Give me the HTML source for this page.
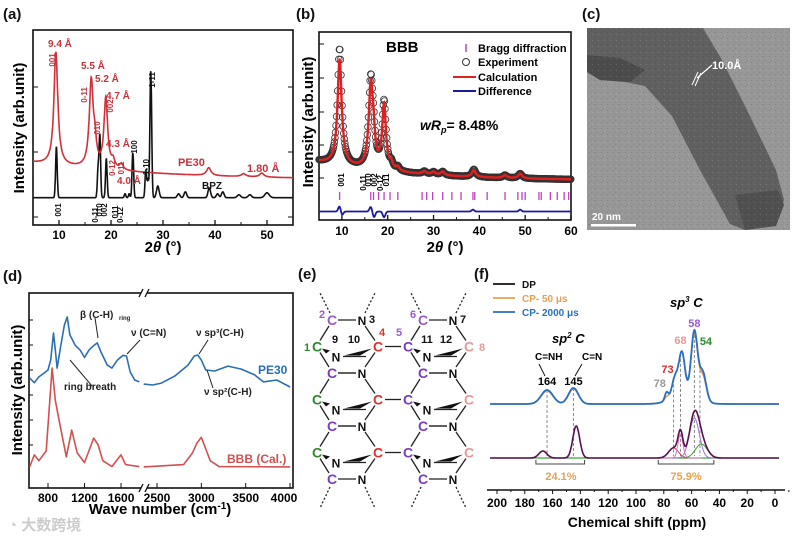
<!DOCTYPE html>
<html><head><meta charset="utf-8">
<style>
html,body{margin:0;padding:0;background:#fff}
svg{display:block;font-family:"Liberation Sans","Noto Sans CJK SC",sans-serif;font-weight:bold}
text{font-weight:bold}
</style></head>
<body>
<svg id="fig" width="800" height="537" viewBox="0 0 800 537" xmlns="http://www.w3.org/2000/svg">
<defs>
<pattern id="grain" width="6" height="6" patternUnits="userSpaceOnUse">
<rect width="6" height="6" fill="none"/><rect x="1" y="2" width="1" height="1" fill="#000" opacity="0.15"/><rect x="4" y="4" width="1" height="1" fill="#fff" opacity="0.15"/><rect x="3" y="0" width="1" height="1" fill="#000" opacity="0.1"/>
</pattern>
</defs>
<rect width="800" height="537" fill="#fff"/>
<g font-size="15" fill="#111">
<text x="3" y="19">(a)</text><text x="296" y="19">(b)</text><text x="582" y="19">(c)</text>
<text x="3" y="281">(d)</text><text x="298" y="279">(e)</text><text x="474" y="279">(f)</text>
</g>
<g>
<rect x="587" y="28" width="203" height="202" fill="#979797"/>
<polygon points="587,28 703,28 722,60 748,112 776,170 784,200 776,226 745,230 730,224 700,170 672,116 645,86 625,82 600,80 587,72" fill="#606060"/>
<polygon points="587,55 620,58 645,70 630,82 600,80 587,72" fill="#4c4c4c"/>
<polygon points="735,195 778,190 784,205 776,226 745,230" fill="#505050"/>
<rect x="587" y="28" width="203" height="202" fill="url(#grain)"/>
<g stroke="#fff" stroke-width="1"><line x1="692" y1="85" x2="698" y2="72"/><line x1="695" y1="86" x2="701" y2="73"/></g>
<line x1="697" y1="78" x2="712" y2="65" stroke="#fff" stroke-width="1.2"/>
<text x="712" y="69" font-size="11" fill="#fff">10.0Å</text>
<rect x="591" y="224" width="45" height="2.5" fill="#fff"/>
<text x="592" y="220" font-size="10" fill="#fff" font-weight="normal">20 nm</text>
</g>
<g id="pa"></g>
<g id="pb"></g>
<g id="pd"></g>
<g id="pe"></g>
<g id="pf"></g>
<text x="8" y="530" font-size="15" fill="#ccc">◔ 大数跨境</text>
</svg>
<script>
// ---------- DATA ----------
const aBpzCenters=[9.5,17.5,17.85,19.1,22.7,23.5,24.2,26.7,27.1,27.65,29.0,33,34.3,38.9,40.5,41.5,44.6,46.7,50];
const aBpzHeights=[26,14,32,20,2,2,23,14,9,65,6,2,3,5,2,3,1.5,1.5,2.5];
const aBpzWidths=[0.22,0.2,0.22,0.22,0.2,0.2,0.22,0.22,0.2,0.24,0.35,0.35,0.35,0.35,0.35,0.35,0.45,0.45,0.6];
const aBpzBase=[14];
const aPeCenters=[9.4,16.2,16.9,19.0,20.4,22.0,38.8,45.5,49];
const aPeHeights=[58,44,10,36,4,3,4,1.5,2];
const aPeWidths=[0.45,0.45,0.35,0.42,0.4,0.4,0.5,0.5,0.5];
const aPeBase=[23,9,25];
const aXTicks=[10,20,30,40,50];
const bCenters=[9.5,16.3,16.9,19.2,20.8,22.2,28,30,32,38.8,45.6,48.9];
const bExpHeights=[62,46,12,36,3,2,1.5,1.5,2,4,1.5,2.5];
const bCalcHeights=[56,43,12,34,3,2,1.5,1.5,2,3.5,1.5,2.5];
const bWidths=[0.55,0.55,0.4,0.5,0.4,0.4,0.5,0.5,0.5,0.5,0.5,0.5];
const bBase=[21,10,20];
const bBragg=[9.5,16.3,16.9,18.0,19.2,20.5,22.2,27.5,28.5,29.8,32,34,36,38.6,39,41.7,45.6,48.4,49.3,50,53,53.5,55.5,57,58.5,59.5];
const bDiffCenters=[9.5,10,16.3,17,19.2,38.6,48.9];
const bDiffAmps=[3,-2,2.5,-3,-3,1,1];
const bXTicks=[10,20,30,40,50,60];
const dBlueLeftWn=[600,650,700,760,800,830,860,880,900,940,980,1010,1040,1100,1150,1200,1250,1300,1340,1380,1450,1500,1560,1620,1660,1700,1750,1800];
const dBlueLeftI=[56.4,54,57,59,60.5,65.6,79.5,70.8,61.5,73,83.6,87.7,78.5,73,70.8,67,70.8,73,74.4,69.7,63,61.5,65.6,68,67.7,59.5,55.4,54.4];
const dBlueRightWn=[2350,2450,2550,2700,2850,2920,2960,3000,3050,3150,3300,3450,3600,3700,3850,4000];
const dBlueRightI=[53.3,52.8,53.8,57.4,63,67.7,68.2,65.6,60.5,60,62.5,61,58,54.4,55.4,51.8];
const dRedLeftWn=[600,650,700,780,820,845,880,920,1000,1060,1120,1200,1300,1350,1400,1500,1600,1650,1800];
const dRedLeftI=[10.8,17,14,19,45,61.5,45,35,16,29.7,18,13,25.6,22,14,11,17,12,11];
const dRedRightWn=[2350,2800,2900,2950,3000,3050,3100,3200,4000];
const dRedRightI=[10.8,12,18,23,26,20,14,11,10.8];
const dLeftTicks=[800,1200,1600];
const dRightTicks=[2500,3000,3500,4000];
const fTopCenters=[164,145,78,72,67,58,52,65];
const fTopHeights=[14,16,8,18,40,64,28,12];
const fTopWidths=[6,5,1.8,3,3,3.2,3.5,12];
const fOrangeHeights=[13,15,3,17,38,60,24,14];
const fDpCenters=[167,143,73,68,58,53];
const fDpHeights=[7,32,10,24,40,14];
const fDpWidths=[4,3.5,5,2.5,5,6];
const fDpColors=['#e070e0','#e060d0','#d04040','#e070c8','#a070e0','#40a040'];
const fDashed=[164,145,73,68,58,54];
const fXTicks=[200,180,160,140,120,100,80,60,40,20,0];

// ---------- HELPERS ----------
const NS='http://www.w3.org/2000/svg';
function mk(parent,tag,attrs,txt){const e=document.createElementNS(NS,tag);for(const k in attrs)e.setAttribute(k,attrs[k]);if(txt!==undefined)e.textContent=txt;parent.appendChild(e);return e;}
function lor(x,c,w){const d=(x-c)/w;return 1/(1+d*d);}
function gau(x,c,w){const d=(x-c)/w;return Math.exp(-d*d);}
function pathFrom(pts){return pts.map((p,i)=>(i?'L':'M')+p[0].toFixed(1)+','+p[1].toFixed(1)).join('');}
function frame(g,x0,y0,x1,y1){const r=mk(g,'rect',{x:x0,y:y0,width:x1-x0,height:y1-y0,fill:'none',stroke:'#111','stroke-width':1.6});}

// ---------- PANEL A ----------
(function(){
const g=document.getElementById('pa');
const X0=33,X1=293,Y0=30,Y1=225;
const xs=v=>X0+(v-5)/50*(X1-X0);
const ys=v=>Y1-v*1.95;
frame(g,X0,Y0,X1,Y1);
aXTicks.forEach(t=>{mk(g,'line',{x1:xs(t),x2:xs(t),y1:Y1,y2:Y1-5,stroke:'#111','stroke-width':1.3});mk(g,'line',{x1:xs(t+5),x2:xs(t+5),y1:Y1,y2:Y1-3,stroke:'#111'});
 const l=mk(g,'text',{x:xs(t),y:Y1+14,'font-size':12,'text-anchor':'middle'},t);});
[87,152,217].forEach(y=>{mk(g,'line',{x1:X0,x2:X0+5,y1:y,y2:y,stroke:'#111'});mk(g,'line',{x1:X1,x2:X1-5,y1:y,y2:y,stroke:'#111'});});
const xt=mk(g,'text',{x:163,y:252,'font-size':15,'text-anchor':'middle'});xt.innerHTML='2<tspan font-style="italic">θ</tspan> (°)';

const yt=mk(g,'text',{x:0,y:0,'font-size':15,'text-anchor':'middle',transform:'translate(24,128) rotate(-90)'},'Intensity (arb.unit)');

const bp=[],pp=[];
for(let x=5;x<=55;x+=0.04){
 let b=aBpzBase[0];aBpzCenters.forEach((c,i)=>b+=aBpzHeights[i]*gau(x,c,aBpzWidths[i]));bp.push([xs(x),ys(b)]);
 let p=aPeBase[0]+aPeBase[1]*Math.exp(-(x-5)/aPeBase[2]);aPeCenters.forEach((c,i)=>p+=aPeHeights[i]*lor(x,c,aPeWidths[i]));pp.push([xs(x),ys(p)]);}
const l1=mk(g,'path',{d:pathFrom(bp),fill:'none',stroke:'#111','stroke-width':1.6});
const l2=mk(g,'path',{d:pathFrom(pp),fill:'none',stroke:'#d0313a','stroke-width':1.6});
const red='#c8323c';
[['9.4 Å',48,47],['5.5 Å',81,69],['5.2 Å',95,82],['4.7 Å',106,99],['4.3 Å',106,147],['4.0 Å',117,184]].forEach(a=>mk(g,'text',{x:a[1],y:a[2],'font-size':10,fill:red},a[0]));
mk(g,'text',{x:178,y:166,'font-size':11,fill:red},'PE30');mk(g,'text',{x:247,y:172,'font-size':11,fill:red},'1.80 Å');
mk(g,'text',{x:202,y:189,'font-size':10,fill:'#111'},'BPZ');
[['001',55,60,red],['0-11',87,95,red],['010',100,128,red],['002',113,106,red],['0-12',115,168,red],['011',124,168,red],
 ['001',61,210,'#111'],['0-11',98,215,'#111'],['010',102,210,'#111'],['002',107,210,'#111'],['011',118,212,'#111'],['0-12',123,215,'#111'],
 ['100',137,147,'#111'],['1-10',149,167,'#111'],['1-11',155,80,'#111']].forEach(a=>mk(g,'text',{x:0,y:0,'font-size':8,fill:a[3],'text-anchor':'middle',transform:`translate(${a[1]},${a[2]}) rotate(-90)`},a[0]));
})();

// ---------- PANEL B ----------
(function(){
const g=document.getElementById('pb');
const X0=319,X1=571,Y0=32,Y1=220;
const xs=v=>X0+(v-5)/55*(X1-X0);
const ys=v=>Y1-v*1.88;
frame(g,X0,Y0,X1,Y1);
bXTicks.forEach(t=>{mk(g,'line',{x1:xs(t),x2:xs(t),y1:Y1,y2:Y1-5,stroke:'#111','stroke-width':1.3});mk(g,'line',{x1:xs(t-5),x2:xs(t-5),y1:Y1,y2:Y1-3,stroke:'#111'});
 const l=mk(g,'text',{x:xs(t),y:Y1+15,'font-size':12,'text-anchor':'middle'},t);});
[44,78,112,145,178].forEach(y=>mk(g,'line',{x1:X0,x2:X0+5,y1:y,y2:y,stroke:'#111'}));
const xt=mk(g,'text',{x:445,y:252,'font-size':15,'text-anchor':'middle'});xt.innerHTML='2<tspan font-style="italic">θ</tspan> (°)';

const yt=mk(g,'text',{x:0,y:0,'font-size':15,'text-anchor':'middle',transform:'translate(313,122) rotate(-90)'},'Intensity (arb.unit)');

const f=(x,h)=>{let v=bBase[0]+bBase[1]*Math.exp(-(x-5)/bBase[2]);bCenters.forEach((c,i)=>v+=h[i]*lor(x,c,bWidths[i]));return v;};
const circ=mk(g,'g',{fill:'none',stroke:'#333','stroke-width':0.8});

for(let x=5;x<=60;x+=0.12){mk(circ,'circle',{cx:xs(x),cy:ys(f(x,bExpHeights)),r:3.3});}
const cp=[];for(let x=5;x<=60;x+=0.04)cp.push([xs(x),ys(f(x,bCalcHeights))]);
const cl=mk(g,'path',{d:pathFrom(cp),fill:'none',stroke:'#e02020','stroke-width':2.4});
const dp=[];for(let x=5;x<=60;x+=0.05){let v=4.5;bDiffCenters.forEach((c,i)=>v+=bDiffAmps[i]*gau(x,c,0.4));dp.push([xs(x),ys(v)]);}
const dl=mk(g,'path',{d:pathFrom(dp),fill:'none',stroke:'#1a1aa0','stroke-width':1.8});
bBragg.forEach(c=>{const t=mk(g,'line',{x1:xs(c),x2:xs(c),y1:192,y2:200,stroke:'#c040c0','stroke-width':1.3});});
mk(g,'text',{x:386,y:52,'font-size':15},'BBB');
const lg=mk(g,'g',{'font-size':11});
mk(lg,'line',{x1:466,x2:466,y1:44,y2:52,stroke:'#c040c0','stroke-width':1.5});mk(lg,'text',{x:478,y:52},'Bragg diffraction');
mk(lg,'circle',{cx:466,cy:62,r:3.5,fill:'none',stroke:'#333'});mk(lg,'text',{x:478,y:66},'Experiment');
mk(lg,'line',{x1:453,x2:476,y1:77,y2:77,stroke:'#e02020','stroke-width':2});mk(lg,'text',{x:478,y:81},'Calculation');
mk(lg,'line',{x1:453,x2:476,y1:91,y2:91,stroke:'#1a1aa0','stroke-width':2});mk(lg,'text',{x:478,y:95},'Difference');
const w=mk(g,'text',{x:420,y:130,'font-size':14});w.innerHTML='<tspan font-style="italic">wR</tspan><tspan font-style="italic" font-size="9" dy="3">p</tspan><tspan dy="-3">= 8.48%</tspan>';
[['001',344,180],['0-11',366,183],['010',371,180],['002',377,180],['0-12',383,183],['011',389,180]].forEach(a=>mk(g,'text',{x:0,y:0,'font-size':8,'text-anchor':'middle',transform:`translate(${a[1]},${a[2]}) rotate(-90)`},a[0]));
})();

// ---------- PANEL D ----------
(function(){
const g=document.getElementById('pd');
const X0=29,X1=293,Y0=293,Y1=488,BR=144;
const xl=v=>48+(v-800)*0.0913;
const xr=v=>157+(v-2500)*0.0887;
const ys=v=>Y1-v*1.95;
frame(g,X0,Y0,X1,Y1);
[[dLeftTicks,xl],[dRightTicks,xr]].forEach(p=>p[0].forEach(t=>{mk(g,'line',{x1:p[1](t),x2:p[1](t),y1:Y1,y2:Y1-5,stroke:'#111'});
 const l=mk(g,'text',{x:Math.min(p[1](t),284),y:Y1+14,'font-size':12,'text-anchor':'middle'},t);}));
[320,345,370,395,420,445].forEach(y=>mk(g,'line',{x1:X0,x2:X0+4,y1:y,y2:y,stroke:'#111'}));
[Y0,Y1].forEach(y=>{mk(g,'rect',{x:BR-3,y:y-3,width:6,height:6,fill:'#fff'});mk(g,'line',{x1:BR-5,x2:BR-1,y1:y+4,y2:y-4,stroke:'#111','stroke-width':1.3});mk(g,'line',{x1:BR+1,x2:BR+5,y1:y+4,y2:y-4,stroke:'#111','stroke-width':1.3});});
const xt=mk(g,'text',{x:160,y:514,'font-size':15,'text-anchor':'middle'});xt.innerHTML='Wave number (cm<tspan font-size="10" dy="-5">-1</tspan><tspan dy="5">)</tspan>';

const yt=mk(g,'text',{x:0,y:0,'font-size':15,'text-anchor':'middle',transform:'translate(22,390) rotate(-90)'},'Intensity (arb.unit)');

function line(wn,iv,xf,col,name){const e=mk(g,'path',{d:pathFrom(wn.map((w,i)=>[xf(w),ys(iv[i])])),fill:'none',stroke:col,'stroke-width':1.6,'stroke-linejoin':'round'});}
line(dBlueLeftWn,dBlueLeftI,xl,'#2a6fb5','pe30-line-left');line(dBlueRightWn,dBlueRightI,xr,'#2a6fb5','pe30-line-right');
line(dRedLeftWn,dRedLeftI,xl,'#d25050','bbb-line-left');line(dRedRightWn,dRedRightI,xr,'#d25050','bbb-line-right');
const ann=mk(g,'g',{'font-size':10,fill:'#222'});
mk(ann,'text',{x:80,y:318},'β (C-H)');mk(ann,'text',{x:119,y:320,'font-size':6},'ring');
mk(ann,'text',{x:131,y:336},'ν (C=N)');mk(ann,'text',{x:196,y:336},'ν sp³(C-H)');
mk(ann,'text',{x:64,y:390},'ring breath');mk(ann,'text',{x:204,y:395},'ν sp²(C-H)');
const ar=mk(g,'g',{stroke:'#222','stroke-width':1});
[[95,318,98,338],[140,340,127,354],[208,340,199,354],[92,386,70,360],[213,388,207,370]].forEach(a=>{mk(ar,'line',{x1:a[0],y1:a[1],x2:a[2],y2:a[3]});});
mk(g,'text',{x:258,y:374,'font-size':12,fill:'#2a6fb5'},'PE30');
mk(g,'text',{x:227,y:463,'font-size':12,fill:'#d25050'},'BBB (Cal.)');
})();

// ---------- PANEL E ----------
(function(){
const g=document.getElementById('pe');
const cols=[0,91];const rowsY=[320,373,426,479];
const lines=mk(g,'g',{stroke:'#222','stroke-width':1.3});
const green='#2f8a2f',purple='#7a3cc0',red='#e03030',pink='#e39a9a',lpurple='#9a5ad0';
cols.forEach((dx,ci)=>{
 for(let r=0;r<3;r++){const yt=rowsY[r],yb=rowsY[r+1],ym=(yt+yb)/2;
  const P=[[332+dx,yt],[362+dx,yt],[378+dx,ym],[362+dx,yb],[332+dx,yb],[317+dx,ym]];
  mk(lines,'line',{x1:P[0][0]+6,y1:yt,x2:P[1][0]-6,y2:yt});
  mk(lines,'line',{x1:P[1][0]+3,y1:yt+6,x2:P[2][0]-3,y2:ym-6});
  mk(lines,'line',{x1:P[2][0]-3,y1:ym+6,x2:P[3][0]+3,y2:yb-6});
  mk(lines,'line',{x1:P[4][0]-3,y1:yb-6,x2:P[5][0]+3,y2:ym+6});
  mk(lines,'line',{x1:P[5][0]+3,y1:ym-6,x2:P[0][0]-3,y2:yt+6});
  mk(lines,'line',{x1:P[3][0]-6,y1:yb,x2:P[4][0]+6,y2:yb});
  mk(g,'polygon',{points:`${322+dx},${ym+2} ${330+dx},${ym+4} ${326+dx},${ym+7}`,fill:'#111'});
  mk(g,'polygon',{points:`${344+dx},${ym+9} ${372+dx},${ym+2} ${360+dx},${ym+9}`,fill:'#111'});
  mk(lines,'line',{x1:343+dx,y1:ym+10,x2:366+dx,y2:ym+10});
  const lc=ci===0?green:purple, rc=ci===0?red:pink;
  mk(g,'text',{x:317+dx,y:ym+5,'font-size':14,fill:lc,'text-anchor':'middle'},'C');
  mk(g,'text',{x:378+dx,y:ym+5,'font-size':14,fill:rc,'text-anchor':'middle'},'C');
  mk(g,'text',{x:336+dx,y:ym+15,'font-size':12,fill:'#111','text-anchor':'middle'},'N');
 }
 rowsY.forEach((y,ri)=>{mk(g,'text',{x:332+dx,y:y+5,'font-size':14,fill:ri===0?lpurple:purple,'text-anchor':'middle'},'C');mk(g,'text',{x:362+dx,y:y+5,'font-size':12,fill:'#111','text-anchor':'middle'},'N');});
 mk(lines,'line',{x1:330+dx,y1:313,x2:320+dx,y2:293,'stroke-dasharray':'2,2'});mk(lines,'line',{x1:365+dx,y1:313,x2:375+dx,y2:293,'stroke-dasharray':'2,2'});
 mk(lines,'line',{x1:330+dx,y1:487,x2:320+dx,y2:508,'stroke-dasharray':'2,2'});mk(lines,'line',{x1:365+dx,y1:487,x2:375+dx,y2:508,'stroke-dasharray':'2,2'});
});
[346.5,399.5,452.5].forEach(y=>mk(lines,'line',{x1:385,y1:y,x2:401,y2:y}));
[['1',307,351,green],['2',322,318,lpurple],['3',372,323,'#111'],['9',335,343,'#111'],['10',354,343,'#111'],['4',382,336,red],['5',399,336,lpurple],['6',413,318,lpurple],['7',463,323,'#111'],['11',427,343,'#111'],['12',446,343,'#111'],['8',482,351,pink]].forEach(a=>mk(g,'text',{x:a[1],y:a[2],'font-size':11,fill:a[3],'text-anchor':'middle'},a[0]));
})();

// ---------- PANEL F ----------
(function(){
const g=document.getElementById('pf');
const xs=v=>775-v*1.39;
const TOP=404,BOT=458;
const AX=490;
const ax=mk(g,'line',{x1:487,x2:785,y1:AX,y2:AX,stroke:'#111','stroke-width':1.6});
fXTicks.forEach(t=>{mk(g,'line',{x1:xs(t),x2:xs(t),y1:AX,y2:AX+4,stroke:'#111'});mk(g,'line',{x1:xs(t-10),x2:xs(t-10),y1:AX,y2:AX+2,stroke:'#111'});
 const l=mk(g,'text',{x:xs(t),y:AX+17,'font-size':12,'text-anchor':'middle'},t);});
const xt=mk(g,'text',{x:637,y:527,'font-size':14,'text-anchor':'middle'},'Chemical shift (ppm)');
function spec(cs,hs,ws,x){let v=0;cs.forEach((c,i)=>v+=hs[i]*gau(x,c,ws[i]));return v;}
const blue=[],orange=[],dp=[];
for(let p=205;p>=-3;p-=0.3){blue.push([xs(p),TOP-spec(fTopCenters,fTopHeights,fTopWidths,p)]);orange.push([xs(p),TOP-spec(fTopCenters,fOrangeHeights,fTopWidths,p)]);dp.push([xs(p),BOT-spec(fDpCenters,fDpHeights,fDpWidths,p)]);}
fDashed.forEach(c=>{const d=mk(g,'line',{x1:xs(c),x2:xs(c),y1:TOP-spec(fTopCenters,fTopHeights,fTopWidths,c),y2:BOT-2,stroke:'#888','stroke-dasharray':'3,2'});});
const o=mk(g,'path',{d:pathFrom(orange),fill:'none',stroke:'#e8a050','stroke-width':1.5});
const b=mk(g,'path',{d:pathFrom(blue),fill:'none',stroke:'#2a6fc0','stroke-width':1.8});
mk(g,'line',{x1:xs(205),x2:xs(-3),y1:BOT,y2:BOT,stroke:'#40a040','stroke-width':1.2});
fDpCenters.forEach((c,i)=>{const pts=[];for(let p=c+15;p>=c-15;p-=0.3)pts.push([xs(p),BOT-fDpHeights[i]*gau(p,c,fDpWidths[i])]);const e=mk(g,'path',{d:pathFrom(pts),fill:'none',stroke:fDpColors[i],'stroke-width':1});});
const d=mk(g,'path',{d:pathFrom(dp),fill:'none',stroke:'#5a1050','stroke-width':1.6});
const br=mk(g,'g',{stroke:'#444','stroke-width':1,fill:'none'});
[[172,137],[84,44]].forEach(a=>mk(br,'path',{d:`M${xs(a[0])},${BOT+2}v4H${xs(a[1])}v-4`}));
mk(g,'text',{x:xs(154),y:BOT+22,'font-size':11,fill:'#e8a050','text-anchor':'middle'},'24.1%');
mk(g,'text',{x:xs(64),y:BOT+22,'font-size':11,fill:'#e8a050','text-anchor':'middle'},'75.9%');
const lg=mk(g,'g',{'font-size':10});
[['DP','#111',288],['CP- 50 μs','#e8a050',302],['CP- 2000 μs','#2a6fc0',316]].forEach(a=>{mk(lg,'line',{x1:493,x2:515,y1:a[2]-4,y2:a[2]-4,stroke:a[1],'stroke-width':1.8});mk(lg,'text',{x:522,y:a[2],fill:a[1]},a[0]);});
const s2=mk(g,'text',{x:552,y:343,'font-size':13,'font-style':'italic'});s2.innerHTML='sp<tspan font-size="8" dy="-5">2</tspan><tspan dy="5"> C</tspan>';
const s3=mk(g,'text',{x:670,y:307,'font-size':13,'font-style':'italic'});s3.innerHTML='sp<tspan font-size="8" dy="-5">3</tspan><tspan dy="5"> C</tspan>';
mk(g,'text',{x:535,y:360,'font-size':10},'C=NH');mk(g,'text',{x:582,y:360,'font-size':10},'C=N');
mk(g,'text',{x:xs(164),y:385,'font-size':11,'text-anchor':'middle'},'164');mk(g,'text',{x:xs(145),y:385,'font-size':11,'text-anchor':'middle'},'145');
mk(g,'line',{x1:545,y1:376,x2:539,y2:364,stroke:'#111'});mk(g,'line',{x1:575,y1:376,x2:582,y2:364,stroke:'#111'});
[['78',xs(80)-4,387,'#999'],['73',xs(73)-6,373,'#d03030'],['68',xs(68),344,'#e39a9a'],['58',xs(58),327,'#9a5ad0'],['54',xs(54)+6,345,'#2f8a2f']].forEach(a=>mk(g,'text',{x:a[1],y:a[2],'font-size':11,fill:a[3],'text-anchor':'middle'},a[0]));
})();
</script>
</body></html>
